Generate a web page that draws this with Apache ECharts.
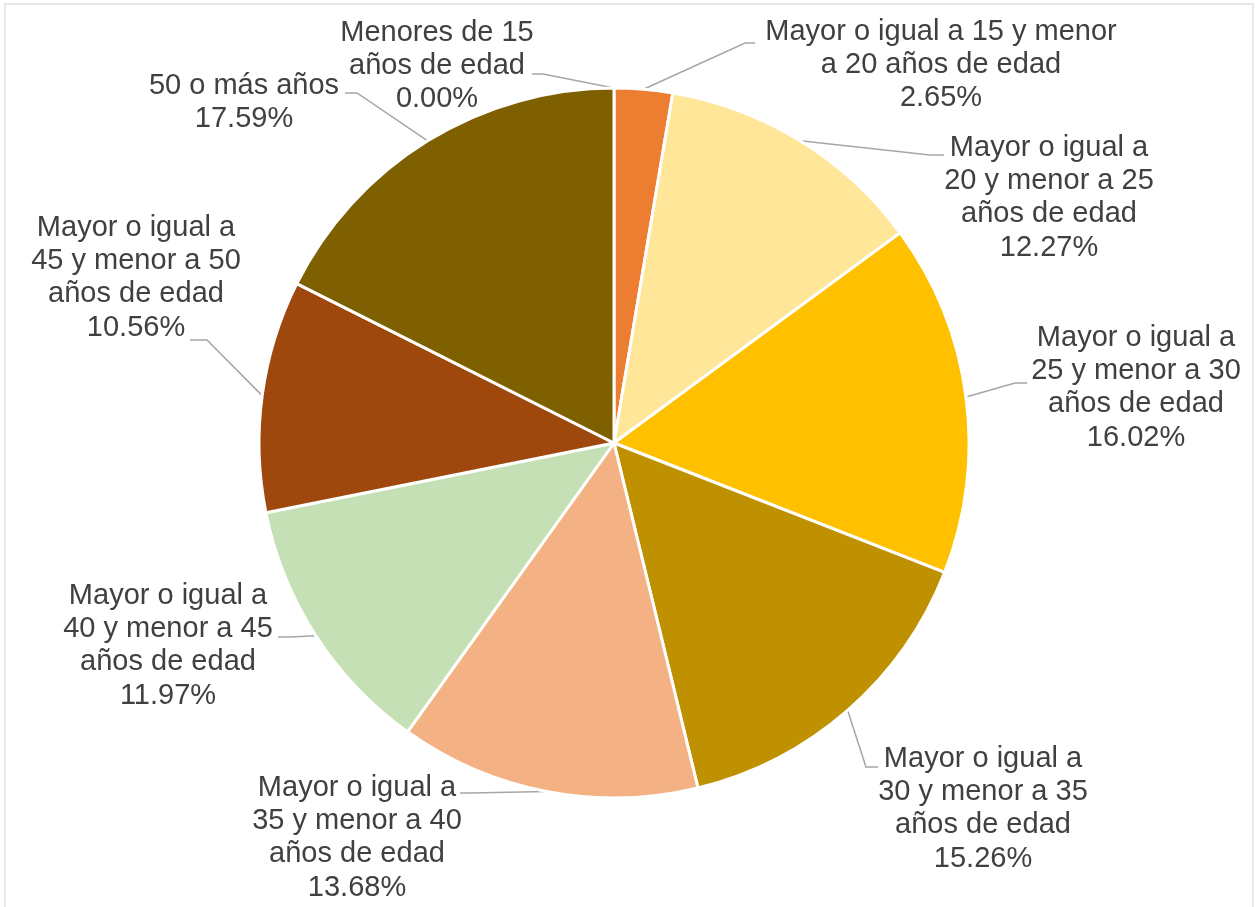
<!DOCTYPE html>
<html>
<head>
<meta charset="utf-8">
<script src="https://cdn.jsdelivr.net/npm/echarts@6/dist/echarts.min.js"></script>
<style>
html,body{margin:0;padding:0;background:#fff;}
#chart{width:1256px;height:907px;}
</style>
</head>
<body>
<div id="chart"></div>
<script>
// ---- data ----
var categories = [
  "Menores de 15\naños de edad",
  "Mayor o igual a 15 y menor\na 20 años de edad",
  "Mayor o igual a\n20 y menor a 25\naños de edad",
  "Mayor o igual a\n25 y menor a 30\naños de edad",
  "Mayor o igual a\n30 y menor a 35\naños de edad",
  "Mayor o igual a\n35 y menor a 40\naños de edad",
  "Mayor o igual a\n40 y menor a 45\naños de edad",
  "Mayor o igual a\n45 y menor a 50\naños de edad",
  "50 o más años"
];
var values = [0.00, 2.65, 12.27, 16.02, 15.26, 13.68, 11.97, 10.56, 17.59];

// ---- styles / layout ----
var colors = ["#4472C4", "#ED7D31", "#FFE699", "#FFC000", "#BF9000", "#F4B183", "#C5E0B4", "#9E480E", "#7F6000"];
// label block: [center x, top y], leader elbow and end points
var labelPlace = [
  { x: 437, y: 16,  elbow: [543, 74],  end: [532, 74] },
  { x: 941, y: 15,  elbow: [745, 43],  end: [755, 43] },
  { x: 1049, y: 131, elbow: [930, 155], end: [944, 155] },
  { x: 1136, y: 321, elbow: [1015, 383], end: [1027, 383] },
  { x: 983, y: 742, elbow: [866, 767], end: [878, 767] },
  { x: 357, y: 771, elbow: [470, 793], end: [460, 793] },
  { x: 168, y: 579, elbow: [290, 637], end: [278, 637] },
  { x: 136, y: 211, elbow: [207, 340], end: [190, 340] },
  { x: 244, y: 69,  elbow: [357, 93],  end: [345, 93] }
];

var pieCenter = [614, 443];
var pieRadius = 355;

var chart = echarts.init(document.getElementById('chart'), null, { renderer: 'canvas' });

var seriesData = categories.map(function (c, i) {
  return { name: c, value: values[i], itemStyle: { color: colors[i] } };
});

chart.setOption({
  backgroundColor: '#ffffff',
  animation: false,
  graphic: [{
    type: 'rect',
    shape: { x: 5, y: 4, width: 1248, height: 930 },
    style: { fill: 'none', stroke: '#E8E8E8', lineWidth: 2 },
    silent: true
  }],
  series: [{
    type: 'pie',
    center: pieCenter,
    radius: pieRadius,
    startAngle: 90,
    clockwise: true,
    avoidLabelOverlap: false,
    minShowLabelAngle: 0,
    itemStyle: { borderColor: '#ffffff', borderWidth: 3 },
    label: {
      show: true,
      position: 'outside',
      formatter: function (p) {
        return p.name + '\n' + values[p.dataIndex].toFixed(2) + '%';
      },
      fontFamily: 'Liberation Sans, Arial, sans-serif',
      fontSize: 29,
      lineHeight: 33.3,
      color: '#404040',
      align: 'center'
    },
    labelLine: {
      show: true,
      length: 10,
      length2: 10,
      lineStyle: { color: '#A6A6A6', width: 1.5 }
    },
    labelLayout: function (params) {
      var lp = labelPlace[params.dataIndex];
      var start;
      if (params.labelLinePoints && params.labelLinePoints[0]) {
        start = params.labelLinePoints[0];
      } else {
        start = lp.elbow;
      }
      return {
        x: lp.x,
        y: lp.y,
        align: 'center',
        verticalAlign: 'top',
        labelLinePoints: [start, lp.elbow, lp.end]
      };
    },
    data: seriesData
  }]
});
</script>
</body>
</html>
